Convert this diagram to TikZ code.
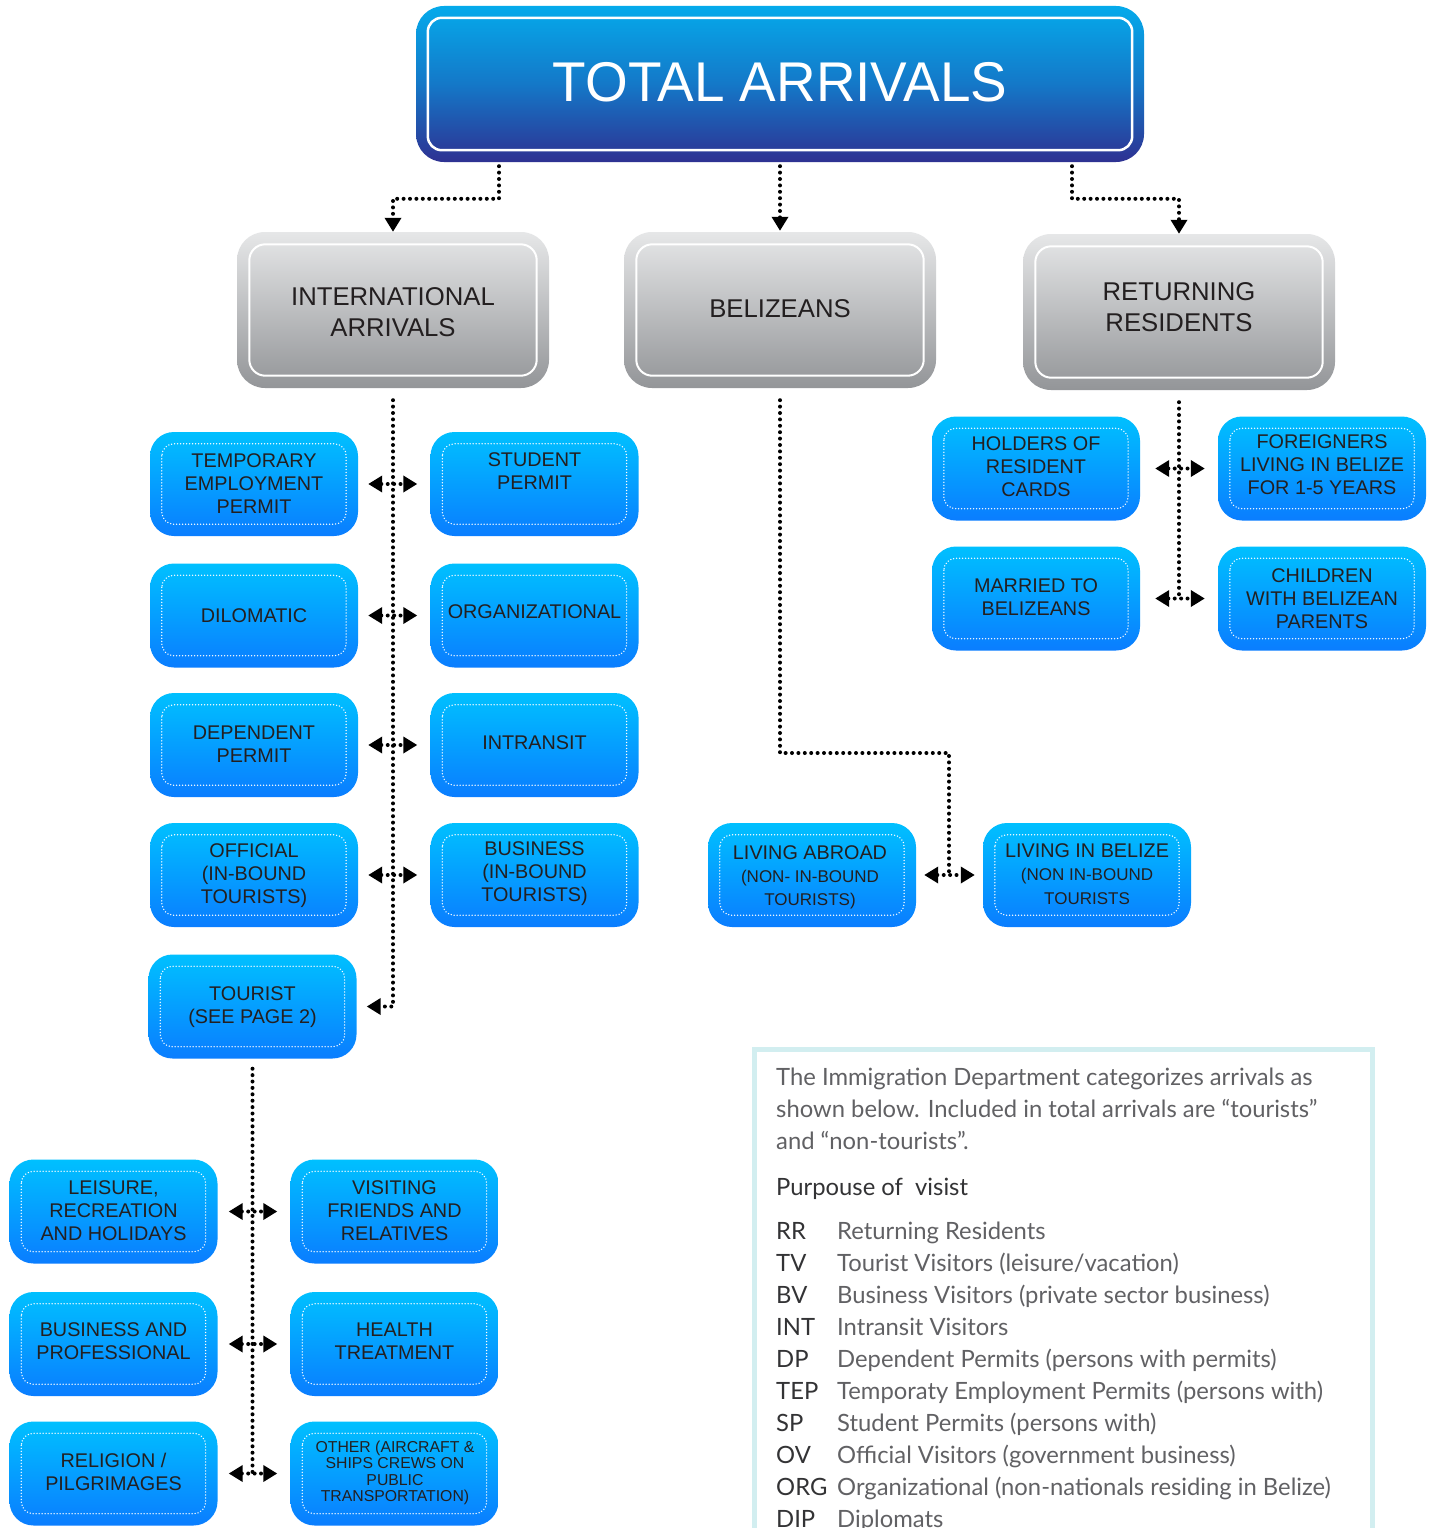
\documentclass[tikz,border=0pt]{standalone}
\usepackage{fontspec}
\setmainfont{Liberation Sans}
\newfontfamily\titlefont[FakeStretch=0.98]{Liberation Sans}
\newfontfamily\legfont{Lato}
\usetikzlibrary{arrows.meta,calc}
\definecolor{bTop}{HTML}{00C0FF}
\definecolor{bBot}{HTML}{0A7DFF}
\definecolor{tTop}{HTML}{05AAEB}
\definecolor{tMid}{HTML}{1478C8}
\definecolor{tBot}{HTML}{2E3192}
\definecolor{gTop}{HTML}{E6E7E8}
\definecolor{gBot}{HTML}{939598}
\definecolor{txt}{HTML}{231F20}
\definecolor{legline}{HTML}{D2EEF0}
\definecolor{legdark}{HTML}{333335}
\definecolor{leglight}{HTML}{616164}
\tikzset{
  bluebox/.style={rounded corners=24pt, minimum width=208pt, minimum height=104pt,
    inner sep=0pt, top color=bTop, bottom color=bBot, draw=none},
  innerdot/.style={draw=white, line width=1.5pt, dash pattern=on 0pt off 3pt,
    line cap=round, rounded corners=12pt},
  btext/.style={align=center, font=\fontsize{19.8}{23}\selectfont, text=txt, inner sep=0pt},
  graybox/.style={rounded corners=28pt, minimum width=312pt, minimum height=156pt,
    inner sep=0pt, top color=gTop, bottom color=gBot, draw=none},
  grayinner/.style={draw=white, line width=2pt, rounded corners=16pt},
  gtext/.style={align=center, font=\fontsize{25.7}{31}\selectfont, text=txt, inner sep=0pt},
  conn/.style={line width=4pt, dash pattern=on 0pt off 6.4pt, line cap=round, black,
    arrows={-Triangle[length=14pt,width=16pt]}},
  connboth/.style={conn, arrows={Triangle[length=14pt,width=16pt]-Triangle[length=14pt,width=16pt]}},
  legtext/.style={anchor=base west, inner sep=0pt, text=leglight,
    font=\legfont\fontsize{23.8}{32}\selectfont},
  legab/.style={anchor=base west, inner sep=0pt, text=legdark,
    font=\legfont\fontsize{23.8}{32}\selectfont},
}
\newcommand\bbox[5]{%
  \node[bluebox] (#1) at (#2,#3) {};
  \draw[innerdot] ($(#1.north west)+(12,12)$) rectangle ($(#1.south east)+(-12,-12)$);
  \node[btext] (#1-t) at (#2,#4) {#5};
}
\newcommand\gbox[5]{%
  \node[graybox] (#1) at (#2,#3) {};
  \draw[grayinner] ($(#1.north west)+(12.5,12.5)$) rectangle ($(#1.south east)+(-12.5,-12.5)$);
  \node[gtext] (#1-t) at (#2,#4) {#5};
}
\begin{document}
\begin{tikzpicture}[x=1pt,y=-1pt]
\clip (0,0) rectangle (1432,1528);
\fill[white] (0,0) rectangle (1432,1528);

% title
\node[rounded corners=28pt, minimum width=728pt, minimum height=156pt, inner sep=0pt,
  top color=tTop, bottom color=tBot, middle color=tMid] (title) at (780,84) {};
\draw[white, line width=2.5pt, rounded corners=14pt]
  ($(title.north west)+(12,12)$) rectangle ($(title.south east)+(-12,-12)$);
\node[text=white, inner sep=0pt, font=\titlefont\fontsize{56}{60}\selectfont] (title-t) at (780,82) {TOTAL ARRIVALS};

% gray boxes
\gbox{intl}{393}{310}{312}{INTERNATIONAL\\ARRIVALS}
\gbox{beliz}{780}{310}{309}{BELIZEANS}
\gbox{ret}{1179}{312}{307.5}{RETURNING\\RESIDENTS}

% top connectors
\draw[conn] ([xshift=-281,yshift=-4]title.south) |- ($(intl.north)+(0,-33)$) -- (intl.north);
\draw[conn] ([yshift=-4]title.south) -- ([yshift=1]beliz.north);
\draw[conn] ([xshift=292,yshift=-4]title.south) |- ($(ret.north)+(0,-35)$) -- (ret.north);

% international arrivals
\bbox{tep}{254}{484}{484}{TEMPORARY\\EMPLOYMENT\\PERMIT}
\bbox{sp}{534.5}{484}{471.5}{STUDENT\\PERMIT}
\bbox{dip}{254}{615.5}{616}{DILOMATIC}
\bbox{org}{534.5}{615.5}{612}{ORGANIZATIONAL}
\bbox{dp}{254}{745}{744.5}{DEPENDENT\\PERMIT}
\bbox{int}{534.5}{745}{743}{INTRANSIT}
\bbox{ov}{254}{875}{876}{OFFICIAL\\(IN-BOUND\\TOURISTS)}
\bbox{bv}{534.5}{875}{874}{BUSINESS\\(IN-BOUND\\TOURISTS)}
\bbox{tour}{252.5}{1006.5}{1007.5}{TOURIST\\(SEE PAGE 2)}

\draw[conn] ([yshift=-12]intl.south) |- ([xshift=10]tour.east);
\draw[connboth] ([xshift=10]tep.east) -- ([xshift=-13]sp.west);
\draw[connboth] ([xshift=10]dip.east) -- ([xshift=-13]org.west);
\draw[connboth] ([xshift=10]dp.east) -- ([xshift=-13]int.west);
\draw[connboth] ([xshift=10]ov.east) -- ([xshift=-13]bv.west);

% returning residents
\bbox{hold}{1036}{468.5}{467}{HOLDERS OF\\RESIDENT\\CARDS}
\bbox{forg}{1322}{468.5}{465}{FOREIGNERS\\LIVING IN BELIZE\\FOR 1-5 YEARS}
\bbox{marr}{1036}{598.5}{597.5}{MARRIED TO\\BELIZEANS}
\bbox{chil}{1322}{598.5}{599}{CHILDREN\\WITH BELIZEAN\\PARENTS}
\draw[conn, arrows=-] ([yshift=-12]ret.south) -- (ret.south |- marr.east);
\draw[connboth] ([xshift=15]hold.east) -- ([xshift=-13]forg.west);
\draw[connboth] ([xshift=15]marr.east) -- ([xshift=-13]chil.west);

% belizeans
\node[bluebox] (abr) at (812,875) {};
\draw[innerdot] ($(abr.north west)+(12,12)$) rectangle ($(abr.south east)+(-12,-12)$);
\node[btext, font=\fontsize{17}{23}\selectfont] (abr-t) at (810,877)
  {{\fontsize{19.8}{23}\selectfont LIVING ABROAD}\\(NON- IN-BOUND\\TOURISTS)};
\node[bluebox] (inb) at (1087,875) {};
\draw[innerdot] ($(inb.north west)+(12,12)$) rectangle ($(inb.south east)+(-12,-12)$);
\node[btext, font=\fontsize{17}{23.5}\selectfont] (inb-t) at (1087,874)
  {{\fontsize{19.8}{23}\selectfont LIVING IN BELIZE}\\(NON IN-BOUND\\TOURISTS};
\coordinate (bc) at (949,753);
\draw[conn, arrows=-] ([yshift=-12]beliz.south) |- (bc) -- (bc |- abr.east);
\draw[connboth] ([xshift=8]abr.east) -- ([xshift=-8]inb.west);

% tourist purposes
\bbox{leis}{113.5}{1211.5}{1211}{LEISURE,\\RECREATION\\AND HOLIDAYS}
\bbox{visi}{394.5}{1211.5}{1211}{VISITING\\FRIENDS AND\\RELATIVES}
\bbox{busi}{113.5}{1344}{1341.5}{BUSINESS AND\\PROFESSIONAL}
\bbox{heal}{394.5}{1344}{1341.5}{HEALTH\\TREATMENT}
\bbox{reli}{113.5}{1473.5}{1471.5}{RELIGION /\\PILGRIMAGES}
\node[bluebox] (oth) at (394.5,1473.5) {};
\draw[innerdot] ($(oth.north west)+(12,12)$) rectangle ($(oth.south east)+(-12,-12)$);
\node[btext, font=\fontsize{15.8}{16.5}\selectfont] (oth-t) at (395,1473)
  {OTHER (AIRCRAFT \&\\SHIPS CREWS ON\\PUBLIC\\TRANSPORTATION)};
\draw[conn, arrows=-] ([yshift=-10]tour.south) -- (tour.south |- reli.east);
\draw[connboth] ([xshift=11]leis.east) -- ([xshift=-13]visi.west);
\draw[connboth] ([xshift=11]busi.east) -- ([xshift=-13]heal.west);
\draw[connboth] ([xshift=11]reli.east) -- ([xshift=-13]oth.west);

% legend
\draw[legline, line width=5pt] (754.5,1600) -- (754.5,1049.5) -- (1372,1049.5) -- (1372,1600);
\node[legtext] (l1) at (776,1085) {The Immigration Department categorizes arrivals as};
\node[legtext] (l2) at (776,1117) {shown below. Included in total arrivals are “tourists”};
\node[legtext] (l3) at (776,1149) {and “non-tourists”.};
\node[legab] (l4) at (776,1195) {Purpouse of\ \ visist};
\node[legab] (a1) at (776,1239) {RR};   \node[legtext] (d1) at (837,1239) {Returning Residents};
\node[legab] (a2) at (776,1271) {TV};   \node[legtext] (d2) at (837,1271) {Tourist Visitors (leisure/vacation)};
\node[legab] (a3) at (776,1303) {BV};   \node[legtext] (d3) at (837,1303) {Business Visitors (private sector business)};
\node[legab] (a4) at (776,1335) {INT};  \node[legtext] (d4) at (837,1335) {Intransit Visitors};
\node[legab] (a5) at (776,1367) {DP};   \node[legtext] (d5) at (837,1367) {Dependent Permits (persons with permits)};
\node[legab] (a6) at (776,1399) {TEP};  \node[legtext] (d6) at (837,1399) {Temporaty Employment Permits (persons with)};
\node[legab] (a7) at (776,1431) {SP};   \node[legtext] (d7) at (837,1431) {Student Permits (persons with)};
\node[legab] (a8) at (776,1463) {OV};   \node[legtext] (d8) at (837,1463) {Official Visitors (government business)};
\node[legab] (a9) at (776,1495) {ORG};  \node[legtext] (d9) at (837,1495) {Organizational (non-nationals residing in Belize)};
\node[legab] (a10) at (776,1527) {DIP}; \node[legtext] (d10) at (837,1527) {Diplomats};
\end{tikzpicture}
\end{document}
